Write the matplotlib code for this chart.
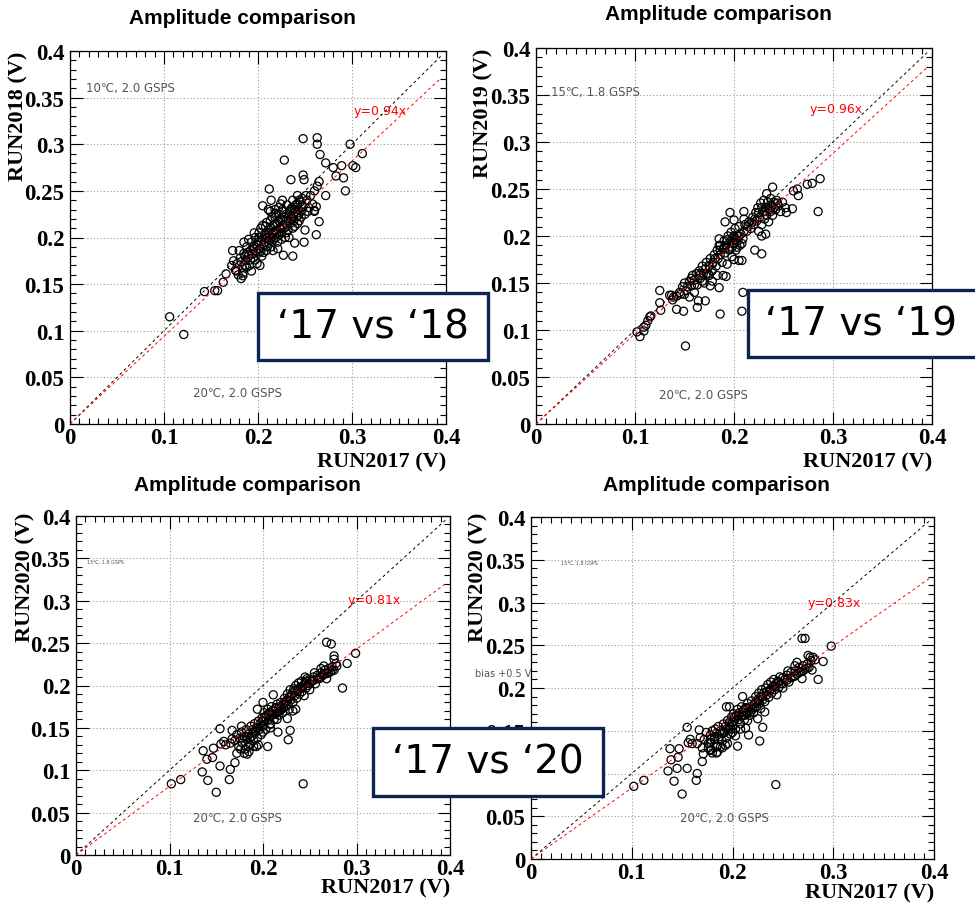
import matplotlib
matplotlib.use("Agg")
import matplotlib.pyplot as plt
import numpy as np
from matplotlib.patches import Rectangle
from matplotlib.ticker import MultipleLocator, FuncFormatter

# (RUN2017, RUN2018) amplitudes in V
pts_18 = [
    (0.248, 0.306), (0.263, 0.307), (0.263, 0.300), (0.266, 0.289), (0.228, 0.283),
    (0.272, 0.280), (0.298, 0.300), (0.311, 0.290), (0.280, 0.275), (0.289, 0.277),
    (0.301, 0.277), (0.304, 0.275), (0.283, 0.266), (0.291, 0.264), (0.248, 0.267),
    (0.249, 0.262), (0.235, 0.262), (0.265, 0.260), (0.212, 0.252), (0.293, 0.250),
    (0.272, 0.245), (0.263, 0.255), (0.260, 0.250), (0.205, 0.234), (0.214, 0.240),
    (0.211, 0.230), (0.262, 0.233), (0.260, 0.229), (0.265, 0.217), (0.262, 0.203),
    (0.250, 0.208), (0.249, 0.195), (0.239, 0.194), (0.227, 0.181), (0.237, 0.180),
    (0.202, 0.170), (0.193, 0.164), (0.173, 0.186), (0.172, 0.170), (0.163, 0.152),
    (0.157, 0.143), (0.143, 0.142), (0.154, 0.143), (0.166, 0.161), (0.177, 0.164),
    (0.182, 0.156), (0.184, 0.159), (0.174, 0.175), (0.186, 0.180), (0.106, 0.115),
    (0.121, 0.096),
    (0.178, 0.172), (0.181, 0.178), (0.183, 0.168), (0.185, 0.183), (0.187, 0.175),
    (0.188, 0.190), (0.190, 0.180), (0.191, 0.170), (0.192, 0.186), (0.193, 0.195),
    (0.195, 0.178), (0.196, 0.190), (0.197, 0.200), (0.198, 0.185), (0.199, 0.172),
    (0.200, 0.195), (0.201, 0.205), (0.202, 0.188), (0.203, 0.210), (0.204, 0.180),
    (0.205, 0.198), (0.206, 0.192), (0.207, 0.203), (0.208, 0.212), (0.209, 0.186),
    (0.210, 0.200), (0.211, 0.195), (0.212, 0.208), (0.213, 0.218), (0.214, 0.190),
    (0.215, 0.203), (0.216, 0.213), (0.217, 0.198), (0.218, 0.222), (0.219, 0.207),
    (0.220, 0.215), (0.221, 0.195), (0.222, 0.225), (0.223, 0.210), (0.224, 0.220),
    (0.225, 0.205), (0.226, 0.230), (0.227, 0.213), (0.228, 0.222), (0.229, 0.200),
    (0.230, 0.218), (0.231, 0.235), (0.232, 0.208), (0.233, 0.225), (0.234, 0.215),
    (0.235, 0.230), (0.236, 0.220), (0.237, 0.240), (0.238, 0.226), (0.239, 0.212),
    (0.240, 0.235), (0.241, 0.222), (0.242, 0.245), (0.243, 0.230), (0.244, 0.218),
    (0.245, 0.238), (0.246, 0.228), (0.247, 0.242), (0.248, 0.233), (0.250, 0.225),
    (0.252, 0.240), (0.254, 0.232), (0.256, 0.245), (0.258, 0.236), (0.260, 0.228),
    (0.176, 0.165), (0.180, 0.186), (0.184, 0.162), (0.186, 0.170), (0.189, 0.184),
    (0.194, 0.182), (0.197, 0.176), (0.200, 0.183), (0.203, 0.196), (0.206, 0.184),
    (0.208, 0.200), (0.210, 0.190), (0.212, 0.200), (0.214, 0.210), (0.216, 0.205),
    (0.218, 0.214), (0.220, 0.205), (0.222, 0.218), (0.224, 0.210), (0.226, 0.218),
    (0.228, 0.210), (0.230, 0.225), (0.232, 0.218), (0.234, 0.228), (0.236, 0.232),
    (0.238, 0.218), (0.240, 0.228), (0.242, 0.236), (0.244, 0.240), (0.246, 0.222),
    (0.222, 0.232), (0.226, 0.240), (0.218, 0.230), (0.215, 0.222), (0.230, 0.205),
    (0.225, 0.198), (0.205, 0.213), (0.196, 0.205), (0.190, 0.198), (0.185, 0.195),
    (0.195, 0.188), (0.199, 0.192), (0.203, 0.185), (0.207, 0.195), (0.211, 0.205),
    (0.215, 0.196), (0.219, 0.200), (0.223, 0.203), (0.227, 0.228), (0.231, 0.212),
    (0.235, 0.222), (0.239, 0.230), (0.243, 0.224), (0.219, 0.226), (0.224, 0.236),
    (0.213, 0.228), (0.209, 0.216), (0.201, 0.200), (0.192, 0.176), (0.188, 0.168),
    (0.182, 0.174), (0.179, 0.160), (0.216, 0.186), (0.221, 0.188), (0.233, 0.200),
    (0.237, 0.210), (0.242, 0.215), (0.247, 0.235), (0.251, 0.245), (0.253, 0.228),
]

# (RUN2017, RUN2019)
pts_19 = [
    (0.287, 0.261), (0.285, 0.226), (0.279, 0.256), (0.274, 0.255), (0.264, 0.250),
    (0.260, 0.248), (0.265, 0.243), (0.259, 0.229), (0.253, 0.225), (0.239, 0.252),
    (0.233, 0.245), (0.196, 0.225), (0.210, 0.226), (0.210, 0.218), (0.200, 0.217),
    (0.191, 0.215), (0.185, 0.197), (0.186, 0.190), (0.228, 0.181), (0.221, 0.185),
    (0.205, 0.174), (0.208, 0.174), (0.193, 0.170), (0.189, 0.158), (0.192, 0.157),
    (0.185, 0.145), (0.176, 0.147), (0.171, 0.131), (0.163, 0.124), (0.164, 0.131),
    (0.149, 0.120), (0.142, 0.122), (0.125, 0.142), (0.125, 0.129), (0.126, 0.121),
    (0.186, 0.117), (0.208, 0.120), (0.209, 0.140), (0.151, 0.083), (0.137, 0.137),
    (0.139, 0.135), (0.146, 0.138), (0.116, 0.115), (0.113, 0.110), (0.111, 0.105),
    (0.109, 0.099), (0.102, 0.098), (0.105, 0.093), (0.109, 0.103), (0.115, 0.114),
    (0.145, 0.140), (0.148, 0.146), (0.150, 0.150), (0.152, 0.142), (0.155, 0.152),
    (0.157, 0.147), (0.158, 0.158), (0.160, 0.153), (0.162, 0.160), (0.163, 0.148),
    (0.165, 0.163), (0.166, 0.155), (0.168, 0.168), (0.169, 0.160), (0.170, 0.150),
    (0.171, 0.165), (0.172, 0.172), (0.174, 0.160), (0.175, 0.168), (0.176, 0.176),
    (0.178, 0.163), (0.179, 0.172), (0.180, 0.180), (0.182, 0.168), (0.183, 0.185),
    (0.184, 0.176), (0.185, 0.190), (0.186, 0.180), (0.188, 0.172), (0.189, 0.186),
    (0.190, 0.195), (0.191, 0.182), (0.192, 0.190), (0.194, 0.200), (0.195, 0.185),
    (0.196, 0.194), (0.197, 0.204), (0.198, 0.188), (0.199, 0.198), (0.200, 0.192),
    (0.201, 0.208), (0.202, 0.185), (0.203, 0.200), (0.204, 0.195), (0.205, 0.210),
    (0.206, 0.190), (0.207, 0.202), (0.209, 0.197), (0.211, 0.212), (0.213, 0.205),
    (0.215, 0.215), (0.217, 0.208), (0.219, 0.220), (0.220, 0.212), (0.222, 0.225),
    (0.223, 0.216), (0.224, 0.230), (0.225, 0.205), (0.226, 0.220), (0.227, 0.235),
    (0.228, 0.212), (0.229, 0.226), (0.230, 0.238), (0.231, 0.218), (0.232, 0.230),
    (0.233, 0.222), (0.234, 0.236), (0.235, 0.215), (0.236, 0.228), (0.237, 0.240),
    (0.238, 0.232), (0.239, 0.222), (0.240, 0.236), (0.242, 0.228), (0.243, 0.238),
    (0.245, 0.232), (0.247, 0.226), (0.249, 0.236), (0.252, 0.230), (0.232, 0.202),
    (0.228, 0.200), (0.200, 0.175), (0.198, 0.178), (0.183, 0.158), (0.178, 0.152),
    (0.160, 0.140), (0.155, 0.135), (0.150, 0.138), (0.142, 0.136), (0.138, 0.132),
    (0.135, 0.137),
    (0.165, 0.158), (0.168, 0.152), (0.172, 0.160), (0.175, 0.158), (0.178, 0.170),
    (0.181, 0.176), (0.186, 0.185), (0.190, 0.188), (0.193, 0.196), (0.196, 0.186),
    (0.199, 0.192), (0.202, 0.196), (0.205, 0.200), (0.208, 0.192), (0.210, 0.205),
    (0.214, 0.210), (0.218, 0.214), (0.221, 0.218), (0.225, 0.225), (0.228, 0.230),
    (0.231, 0.226), (0.234, 0.230), (0.237, 0.226), (0.240, 0.230), (0.244, 0.235),
    (0.203, 0.188), (0.200, 0.200), (0.160, 0.148), (0.157, 0.155), (0.153, 0.146),
]

# (RUN2017, RUN2020)
pts_20 = [
    (0.268, 0.251), (0.273, 0.249), (0.299, 0.238), (0.290, 0.226), (0.285, 0.197),
    (0.276, 0.235), (0.279, 0.223), (0.276, 0.231), (0.265, 0.223), (0.268, 0.208),
    (0.243, 0.084), (0.229, 0.147), (0.227, 0.136), (0.216, 0.145), (0.208, 0.154),
    (0.205, 0.128), (0.226, 0.161), (0.235, 0.172), (0.211, 0.189), (0.200, 0.180),
    (0.194, 0.172), (0.193, 0.128), (0.183, 0.119), (0.172, 0.120), (0.170, 0.109),
    (0.165, 0.101), (0.164, 0.089), (0.154, 0.105), (0.150, 0.074), (0.141, 0.088),
    (0.135, 0.098), (0.136, 0.123), (0.140, 0.113), (0.146, 0.115), (0.147, 0.126),
    (0.154, 0.149), (0.155, 0.131), (0.158, 0.134), (0.167, 0.147), (0.112, 0.089),
    (0.102, 0.084), (0.177, 0.152),
    (0.170, 0.135), (0.172, 0.142), (0.174, 0.128), (0.175, 0.138), (0.177, 0.145),
    (0.178, 0.132), (0.180, 0.140), (0.181, 0.125), (0.182, 0.148), (0.183, 0.136),
    (0.185, 0.143), (0.186, 0.130), (0.187, 0.152), (0.188, 0.140), (0.189, 0.148),
    (0.190, 0.135), (0.191, 0.155), (0.192, 0.145), (0.193, 0.150), (0.194, 0.138),
    (0.195, 0.158), (0.196, 0.148), (0.197, 0.155), (0.198, 0.142), (0.199, 0.162),
    (0.200, 0.152), (0.201, 0.168), (0.202, 0.158), (0.203, 0.148), (0.204, 0.165),
    (0.205, 0.172), (0.206, 0.160), (0.207, 0.168), (0.208, 0.155), (0.209, 0.175),
    (0.210, 0.165), (0.211, 0.170), (0.212, 0.160), (0.213, 0.173), (0.214, 0.167),
    (0.215, 0.178), (0.216, 0.170), (0.217, 0.165), (0.218, 0.175), (0.219, 0.180),
    (0.220, 0.172), (0.221, 0.168), (0.222, 0.178), (0.223, 0.185), (0.224, 0.175),
    (0.225, 0.182), (0.226, 0.190), (0.227, 0.178), (0.228, 0.186), (0.229, 0.195),
    (0.230, 0.183), (0.231, 0.190), (0.232, 0.180), (0.233, 0.196), (0.234, 0.188),
    (0.235, 0.200), (0.236, 0.185), (0.237, 0.193), (0.238, 0.203), (0.239, 0.190),
    (0.240, 0.198), (0.241, 0.205), (0.242, 0.193), (0.243, 0.200), (0.244, 0.188),
    (0.245, 0.203), (0.246, 0.197), (0.247, 0.208), (0.248, 0.200), (0.250, 0.195),
    (0.252, 0.205), (0.254, 0.210), (0.256, 0.202), (0.258, 0.212), (0.260, 0.208),
    (0.262, 0.215), (0.264, 0.212), (0.266, 0.218), (0.268, 0.214), (0.270, 0.220),
    (0.272, 0.216), (0.274, 0.222), (0.276, 0.218), (0.278, 0.226), (0.262, 0.220),
    (0.255, 0.215), (0.250, 0.207), (0.245, 0.210), (0.232, 0.170), (0.228, 0.172),
    (0.215, 0.160), (0.208, 0.150), (0.200, 0.145), (0.195, 0.130), (0.185, 0.122),
    (0.180, 0.120), (0.176, 0.125), (0.165, 0.132), (0.160, 0.130), (0.167, 0.137),
    (0.182, 0.140), (0.186, 0.138), (0.190, 0.145), (0.194, 0.150), (0.198, 0.152),
    (0.202, 0.163), (0.206, 0.166), (0.210, 0.170), (0.214, 0.174), (0.218, 0.170),
    (0.222, 0.174), (0.226, 0.182), (0.230, 0.188), (0.234, 0.194), (0.238, 0.196),
    (0.242, 0.198), (0.246, 0.205), (0.250, 0.202), (0.254, 0.206), (0.258, 0.208),
    (0.262, 0.210), (0.266, 0.214), (0.270, 0.215), (0.274, 0.218), (0.190, 0.128),
    (0.184, 0.128), (0.178, 0.138), (0.200, 0.158), (0.212, 0.166), (0.224, 0.180),
]

# (RUN2017, RUN2020) with bias +0.5 V
pts_20b = [
    (0.269, 0.258), (0.272, 0.258), (0.298, 0.249), (0.290, 0.231), (0.285, 0.210),
    (0.279, 0.221), (0.269, 0.211), (0.277, 0.236), (0.275, 0.238), (0.264, 0.230),
    (0.243, 0.087), (0.230, 0.154), (0.227, 0.138), (0.225, 0.164), (0.216, 0.145),
    (0.213, 0.153), (0.205, 0.132), (0.203, 0.144), (0.198, 0.152), (0.210, 0.190),
    (0.197, 0.178), (0.194, 0.178), (0.155, 0.154), (0.167, 0.151), (0.183, 0.152),
    (0.178, 0.136), (0.188, 0.131), (0.193, 0.133), (0.171, 0.123), (0.170, 0.114),
    (0.165, 0.100), (0.164, 0.092), (0.150, 0.076), (0.142, 0.091), (0.136, 0.103),
    (0.145, 0.106), (0.155, 0.106), (0.146, 0.119), (0.138, 0.129), (0.147, 0.129),
    (0.156, 0.136), (0.139, 0.116), (0.178, 0.127), (0.184, 0.124), (0.102, 0.085),
    (0.112, 0.092),
    (0.165, 0.135), (0.168, 0.142), (0.170, 0.130), (0.172, 0.140), (0.174, 0.148),
    (0.176, 0.135), (0.178, 0.145), (0.179, 0.128), (0.180, 0.150), (0.182, 0.140),
    (0.184, 0.147), (0.185, 0.132), (0.186, 0.155), (0.187, 0.143), (0.188, 0.150),
    (0.190, 0.138), (0.191, 0.158), (0.192, 0.148), (0.193, 0.155), (0.194, 0.142),
    (0.195, 0.162), (0.196, 0.152), (0.197, 0.160), (0.198, 0.146), (0.199, 0.166),
    (0.200, 0.156), (0.201, 0.170), (0.202, 0.162), (0.203, 0.152), (0.204, 0.168),
    (0.205, 0.175), (0.206, 0.163), (0.207, 0.171), (0.208, 0.158), (0.209, 0.178),
    (0.210, 0.168), (0.211, 0.174), (0.212, 0.163), (0.213, 0.177), (0.214, 0.170),
    (0.215, 0.182), (0.216, 0.173), (0.217, 0.168), (0.218, 0.178), (0.219, 0.185),
    (0.220, 0.175), (0.221, 0.171), (0.222, 0.182), (0.223, 0.190), (0.224, 0.178),
    (0.225, 0.186), (0.226, 0.194), (0.227, 0.182), (0.228, 0.190), (0.229, 0.198),
    (0.230, 0.186), (0.231, 0.194), (0.232, 0.184), (0.233, 0.200), (0.234, 0.192),
    (0.235, 0.204), (0.236, 0.189), (0.237, 0.197), (0.238, 0.207), (0.239, 0.194),
    (0.240, 0.202), (0.241, 0.210), (0.242, 0.198), (0.243, 0.205), (0.244, 0.192),
    (0.245, 0.208), (0.246, 0.201), (0.247, 0.213), (0.248, 0.205), (0.250, 0.200),
    (0.252, 0.210), (0.254, 0.215), (0.256, 0.207), (0.258, 0.218), (0.260, 0.213),
    (0.262, 0.220), (0.264, 0.216), (0.266, 0.224), (0.268, 0.219), (0.270, 0.226),
    (0.272, 0.222), (0.274, 0.228), (0.276, 0.224), (0.278, 0.232), (0.280, 0.236),
    (0.282, 0.233), (0.262, 0.226), (0.255, 0.220), (0.250, 0.212), (0.232, 0.172),
    (0.228, 0.176), (0.215, 0.162), (0.208, 0.152), (0.200, 0.148), (0.195, 0.135),
    (0.185, 0.125), (0.180, 0.124), (0.176, 0.130), (0.160, 0.135), (0.158, 0.140),
    (0.182, 0.143), (0.186, 0.140), (0.190, 0.148), (0.194, 0.152), (0.198, 0.155),
    (0.202, 0.166), (0.206, 0.168), (0.210, 0.172), (0.214, 0.176), (0.218, 0.172),
    (0.222, 0.177), (0.226, 0.185), (0.230, 0.190), (0.234, 0.196), (0.238, 0.199),
    (0.242, 0.202), (0.246, 0.207), (0.250, 0.205), (0.254, 0.209), (0.258, 0.212),
    (0.262, 0.214), (0.266, 0.218), (0.270, 0.220), (0.274, 0.223), (0.190, 0.130),
    (0.184, 0.131), (0.178, 0.140), (0.200, 0.160), (0.212, 0.168), (0.224, 0.183),
]

slopes = [0.94, 0.96, 0.81, 0.83]
ylabels = ["RUN2018 (V)", "RUN2019 (V)", "RUN2020 (V)", "RUN2020 (V)"]
fit_labels = ["y=0.94x", "y=0.96x", "y=0.81x", "y=0.83x"]
top_notes = ["10\u2103, 2.0 GSPS", "15\u2103, 1.8 GSPS", "15\u2103, 1.8 GSPS", "15\u2103, 1.8 GSPS"]
box_labels = ["\u201817 vs \u201818", "\u201817 vs \u201819", "\u201817 vs \u201820"]

W, H = 975, 904
fig = plt.figure(figsize=(W / 100, H / 100), dpi=100)

# axes frames in pixels: left, right, top, bottom
frames = [(70, 446, 52, 425), (536, 932, 49, 425), (76, 450, 517, 856), (531, 934, 518, 860)]
title_pos = [(242, 18), (718, 15), (247, 486), (716, 486)]
ylab_pos = [(18, 52), (483, 49), (25, 513), (478, 513)]
xlab_y = [462, 462, 888, 893]
top_note_pos = [(0.017, 0.361), (0.015, 0.354), (0.012, 0.346), (0.030, 0.347)]
top_note_size = [8.5, 8.5, 3.5, 3.5]
bottom_note_pos = [(0.131, 0.034), (0.124, 0.031), (0.125, 0.044), (0.148, 0.049)]
fit_pos = [(0.302, 0.336), (0.276, 0.336), (0.290, 0.301), (0.275, 0.300)]

serif = "Liberation Serif"
sans = "Liberation Sans"
fmt = FuncFormatter(lambda v, p: f"{v:g}")

for i, pts in enumerate([pts_18, pts_19, pts_20, pts_20b]):
    l, r, t, b = frames[i]
    ax = fig.add_axes([l / W, 1 - b / H, (r - l) / W, (b - t) / H])
    ax.set_xlim(0, 0.4)
    ax.set_ylim(0, 0.4)
    ax.xaxis.set_major_locator(MultipleLocator(0.1))
    ax.xaxis.set_minor_locator(MultipleLocator(0.01))
    ax.yaxis.set_major_locator(MultipleLocator(0.05))
    ax.yaxis.set_minor_locator(MultipleLocator(0.01))
    ax.xaxis.set_major_formatter(fmt)
    ax.yaxis.set_major_formatter(fmt)
    ax.tick_params(which="both", direction="in", top=True, right=True, width=0.8)
    ax.tick_params(which="major", length=9)
    ax.tick_params(axis="y", which="major", pad=4)
    ax.tick_params(axis="x", which="major", pad=2)
    ax.tick_params(which="minor", length=4.5)
    for lab in ax.get_xticklabels() + ax.get_yticklabels():
        lab.set_fontfamily(serif)
        lab.set_fontweight("bold")
        lab.set_fontsize(16.5)
    ax.grid(True, which="major", color="#9a9a9a", linestyle=(0, (1, 2)), linewidth=0.8)
    for s in ax.spines.values():
        s.set_linewidth(0.9)

    xs = np.array([p[0] for p in pts])
    ys = np.array([p[1] for p in pts])
    ax.scatter(xs, ys, s=34, facecolors="none", edgecolors="black", linewidths=0.9, zorder=3)

    lx = np.array([0.0, 0.395])
    ax.plot(lx, lx, color="black", linestyle=(0, (3, 3)), linewidth=0.7, zorder=4)
    ax.plot(lx, slopes[i] * lx, color="red", linestyle=(0, (3, 3)), linewidth=0.7, zorder=4)

    ax.text(*top_note_pos[i], top_notes[i], color="#555555", fontsize=top_note_size[i],
            ha="left", va="center", family=["DejaVu Sans"])
    ax.text(*bottom_note_pos[i], "20\u2103, 2.0 GSPS", color="#555555", fontsize=8.5,
            ha="left", va="center", family=["DejaVu Sans"])
    ax.text(*fit_pos[i], fit_labels[i], color="red", fontsize=9,
            ha="left", va="center", family=["DejaVu Sans"])
    if i == 3:
        ax.text(-0.056, 0.218, "bias +0.5 V", color="#555555", fontsize=7,
                ha="left", va="center", family=["DejaVu Sans"], clip_on=False)

    tx, ty = title_pos[i]
    fig.text(tx / W, 1 - ty / H, "Amplitude comparison", fontsize=15, fontweight="bold",
             family=sans, ha="center", va="center")
    yx, yy = ylab_pos[i]
    fig.text(yx / W, 1 - yy / H, ylabels[i], fontsize=16, fontweight="bold", family=serif,
             rotation=90, ha="center", va="top")
    fig.text(r / W, 1 - xlab_y[i] / H, "RUN2017 (V)", fontsize=16, fontweight="bold",
             family=serif, ha="right", va="center")

# overlay boxes (pixels: left, right, top, bottom)
boxes = [(258, 488, 294, 361), (748, 985, 291, 358), (373, 603, 729, 797)]
box_text_x = [373, 861, 488]
navy = "#0d2356"
for (l, r, t, b), lab, cx in zip(boxes, box_labels, box_text_x):
    rect = Rectangle((l / W, 1 - b / H), (r - l) / W, (b - t) / H, transform=fig.transFigure,
                     facecolor="white", edgecolor=navy, linewidth=2.4, zorder=10)
    fig.add_artist(rect)
    fig.text(cx / W, 1 - (t + b) / 2 / H, lab, fontsize=28, family=["DejaVu Sans"],
             ha="center", va="center", zorder=11)

fig.savefig("out.png", dpi=100)
